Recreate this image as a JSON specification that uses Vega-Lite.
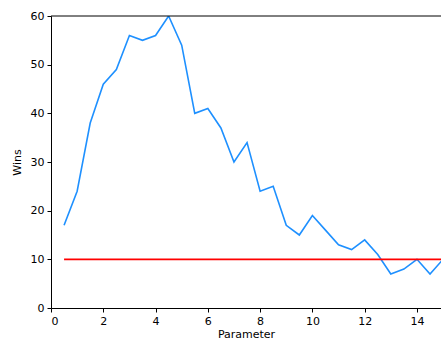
{
  "$schema": "https://vega.github.io/schema/vega-lite/v6.json",
  "autosize": {"type": "none"},
  "padding": {"left": 51, "top": 16, "right": 0, "bottom": 37},
  "width": 390,
  "height": 292,
  "config": {
    "view": {"stroke": null},
    "axis": {
      "grid": false,
      "domainColor": "#000000",
      "tickColor": "#000000",
      "labelColor": "#000000",
      "titleColor": "#000000",
      "labelFont": "DejaVu Sans",
      "titleFont": "DejaVu Sans",
      "labelFontSize": 11,
      "titleFontSize": 11,
      "titleFontWeight": "normal",
      "tickSize": 4,
      "labelPadding": 3,
      "domainWidth": 1,
      "tickWidth": 1
    }
  },
  "datasets": {
    "wins": [
      {"p": 0.5, "w": 17}, {"p": 1, "w": 24}, {"p": 1.5, "w": 38}, {"p": 2, "w": 46},
      {"p": 2.5, "w": 49}, {"p": 3, "w": 56}, {"p": 3.5, "w": 55}, {"p": 4, "w": 56},
      {"p": 4.5, "w": 60}, {"p": 5, "w": 54}, {"p": 5.5, "w": 40}, {"p": 6, "w": 41},
      {"p": 6.5, "w": 37}, {"p": 7, "w": 30}, {"p": 7.5, "w": 34}, {"p": 8, "w": 24},
      {"p": 8.5, "w": 25}, {"p": 9, "w": 17}, {"p": 9.5, "w": 15}, {"p": 10, "w": 19},
      {"p": 10.5, "w": 16}, {"p": 11, "w": 13}, {"p": 11.5, "w": 12}, {"p": 12, "w": 14},
      {"p": 12.5, "w": 11}, {"p": 13, "w": 7}, {"p": 13.5, "w": 8}, {"p": 14, "w": 10},
      {"p": 14.5, "w": 7}, {"p": 15, "w": 10}
    ],
    "ref": [{"p": 0.5, "w": 10}, {"p": 15, "w": 10}]
  },
  "layer": [
    {
      "data": {"name": "wins"},
      "mark": {"type": "line", "color": "#1E90FF", "strokeWidth": 1.6, "clip": true},
      "encoding": {
        "x": {"field": "p", "type": "quantitative", "title": "Parameter",
              "scale": {"domain": [0, 14.92], "nice": false},
              "axis": {"values": [0, 2, 4, 6, 8, 10, 12, 14], "titlePadding": 2}},
        "y": {"field": "w", "type": "quantitative", "title": "Wins",
              "scale": {"domain": [0, 60], "nice": false},
              "axis": {"values": [0, 10, 20, 30, 40, 50, 60], "titlePadding": 8}}
      }
    },
    {
      "data": {"name": "ref"},
      "mark": {"type": "line", "color": "#FF0000", "strokeWidth": 1.6, "clip": true},
      "encoding": {
        "x": {"field": "p", "type": "quantitative"},
        "y": {"field": "w", "type": "quantitative"}
      }
    },
    {
      "data": {"values": [{"v": 60}]},
      "mark": {"type": "rule", "color": "#000000", "strokeWidth": 1},
      "encoding": {"y": {"field": "v", "type": "quantitative"}}
    }
  ]
}
